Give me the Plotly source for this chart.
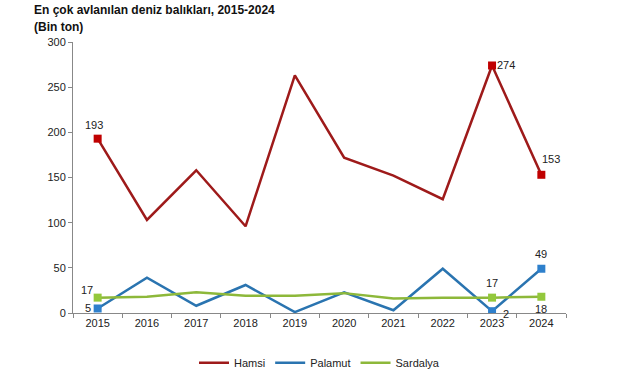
import plotly.graph_objects as go

years = ["2015", "2016", "2017", "2018", "2019", "2020", "2021", "2022", "2023", "2024"]
hamsi = [193, 103, 158, 96, 263, 172, 152, 126, 274, 153]
palamut = [5, 39, 8, 31, 1, 23, 3, 49, 2, 49]
sardalya = [17, 18, 23, 19, 19, 22, 16, 17, 17, 18]

title_line1 = "En çok avlanılan deniz balıkları, 2015-2024"
title_line2 = "(Bin ton)"

series = [
    ("Hamsi", hamsi, "#9E1A1A", "#C00000"),
    ("Palamut", palamut, "#2A74B0", "#2E80CC"),
    ("Sardalya", sardalya, "#8DB83A", "#93C83C"),
]
marked_idx = [0, 8, 9]

fig = go.Figure()
for name, vals, lc, mc in series:
    fig.add_trace(go.Scatter(x=years, y=vals, mode="lines", name=name,
                             line=dict(color=lc, width=2.5)))
for name, vals, lc, mc in series:
    fig.add_trace(go.Scatter(x=[years[i] for i in marked_idx], y=[vals[i] for i in marked_idx],
                             mode="markers", showlegend=False,
                             marker=dict(symbol="square", size=8, color=mc), hoverinfo="skip"))

# label offsets (xshift, yshift) per series, per marked point
offsets = {
    "Hamsi": [(-4, 14), (14, 0), (10, 16)],
    "Palamut": [(-10, 0), (14, -3), (0, 15)],
    "Sardalya": [(-11, 8), (0, 15), (0, -12)],
}
for name, vals, lc, mc in series:
    for (i, (dx, dy)) in zip(marked_idx, offsets[name]):
        fig.add_annotation(x=i, y=vals[i], text=str(vals[i]), showarrow=False,
                           xshift=dx, yshift=dy,
                           font=dict(family="Arial, Liberation Sans", size=11, color="#222"))

for txt, yy in [(title_line1, 1.118), (title_line2, 1.055)]:
    fig.add_annotation(x=-0.083, y=yy, xref="paper", yref="paper", text="<b>" + txt + "</b>",
                       showarrow=False, xanchor="left", yanchor="middle",
                       font=dict(family="Arial, Liberation Sans", size=12, color="#111"))

fig.update_layout(
    width=641, height=380,
    margin=dict(l=73, r=75, t=42, b=67, autoexpand=False),
    paper_bgcolor="white", plot_bgcolor="white",
    font=dict(family="Arial, Liberation Sans", size=11, color="#222"),
    legend=dict(orientation="h", x=0.5, xanchor="center", y=-0.13, yanchor="top",
                font=dict(size=11), itemwidth=30, tracegroupgap=0),
    showlegend=True,
)
fig.update_xaxes(type="category", range=[-0.5, 9.5], showline=True, linecolor="#888", linewidth=1,
                 ticks="outside", tickson="boundaries", ticklen=4, tickcolor="#888",
                 showgrid=False, tickfont=dict(size=11, color="#222"))
fig.update_yaxes(range=[0, 300], dtick=50, showline=True, linecolor="#888", linewidth=1,
                 ticks="outside", ticklen=4, tickcolor="#888", showgrid=False, zeroline=False,
                 tickfont=dict(size=11, color="#222"))

fig.write_html("out.html", config={"displayModeBar": False},
               post_script="document.body.style.margin='0px';")
